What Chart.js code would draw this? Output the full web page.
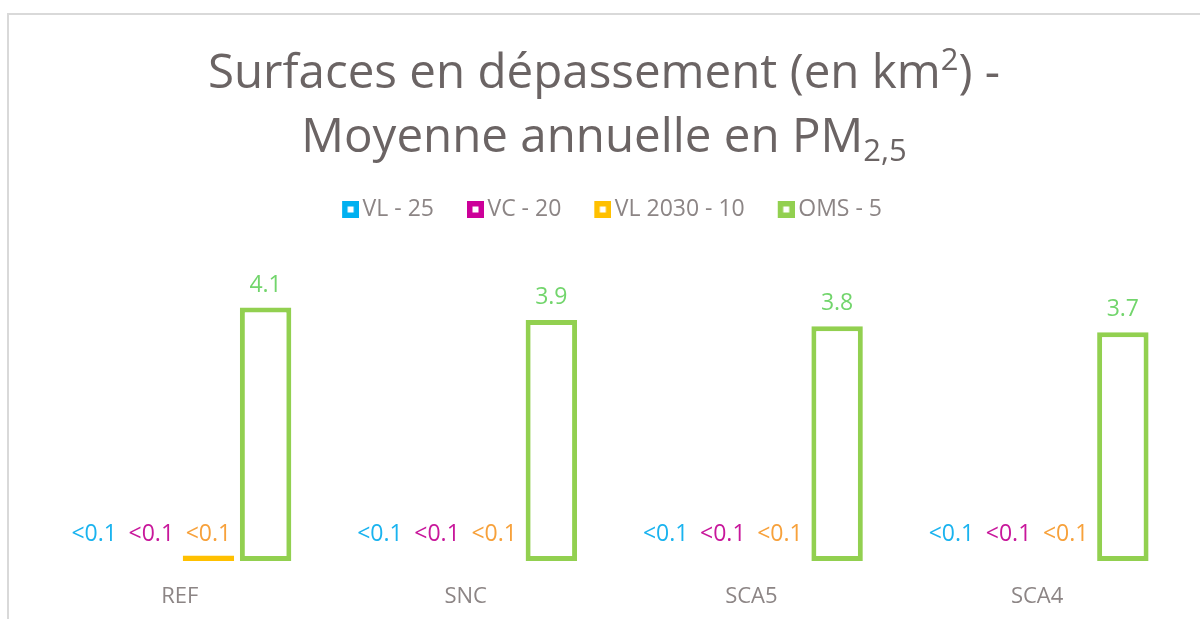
<!DOCTYPE html>
<html>
<head>
<meta charset="utf-8">
<script src="https://cdn.jsdelivr.net/npm/chart.js@4.4.1/dist/chart.umd.min.js"></script>
<style>
  html, body { margin: 0; padding: 0; background: #ffffff; }
  body { width: 1200px; height: 619px; overflow: hidden; position: relative; }
  #frame { position: absolute; left: 7px; top: 13px; width: 1300px; height: 700px;
           border-left: 2px solid #d9d9d9; border-top: 2px solid #d9d9d9; box-sizing: border-box; }
  #wrap { position: absolute; left: 0; top: 0; width: 1200px; height: 619px; }
</style>
</head>
<body>
<div id="frame"></div>
<div id="wrap"><canvas id="chart" width="1200" height="619"></canvas></div>
<script>
// Scenarios on the x axis
const categories = ['REF', 'SNC', 'SCA5', 'SCA4'];

// Exceedance area (km²) per threshold, annual mean PM2.5
const seriesNames = ['VL - 25', 'VC - 20', 'VL 2030 - 10', 'OMS - 5'];
const vl25     = [0, 0, 0, 0];
const vc20     = [0, 0, 0, 0];
const vl2030   = [0.09, 0, 0, 0];
const oms5     = [4.1, 3.9, 3.8, 3.7];

// Threshold below which a value is shown as "<0.1"
const smallLimit = 0.1;

const barColors   = ['#00B0F0', '#CC0099', '#FFC000', '#92D050'];
const labelColors = ['#1AB3EF', '#C8179B', '#F7A13B', '#72D56C'];
const textGray  = '#8C8585';
const titleGray = '#6B6464';
const FONT = '"Open Sans", "Noto Sans", sans-serif';

// Hollow square legend marker (coloured frame, white centre), placed at the
// right of a transparent strip so it sits close to its label
function legendMarker(color) {
  const c = document.createElement('canvas');
  c.width = 32; c.height = 17;
  const g = c.getContext('2d');
  g.fillStyle = color;
  g.fillRect(15, 0, 17, 17);
  g.fillStyle = '#ffffff';
  g.fillRect(20.5, 5.5, 6, 6);
  return c;
}

// Title with superscript / subscript runs
const titleLines = [
  [{t: 'Surfaces en dépassement (en km'}, {t: '2', sup: true}, {t: ') -'}],
  [{t: 'Moyenne annuelle en PM'}, {t: '2,5', sub: true}]
];

const titlePlugin = {
  id: 'richTitle',
  afterDraw(chart) {
    const ctx = chart.ctx;
    const size = 47.5, small = 31;
    const baselines = [88, 152];
    ctx.save();
    ctx.fillStyle = titleGray;
    ctx.textBaseline = 'alphabetic';
    ctx.textAlign = 'left';
    titleLines.forEach((runs, i) => {
      let total = 0;
      runs.forEach(r => {
        ctx.font = `${(r.sup || r.sub) ? small : size}px ${FONT}`;
        r.w = ctx.measureText(r.t).width;
        total += r.w;
      });
      let x = chart.width / 2 + 4 - total / 2;
      runs.forEach(r => {
        ctx.font = `${(r.sup || r.sub) ? small : size}px ${FONT}`;
        let y = baselines[i];
        if (r.sup) y -= 18;
        if (r.sub) y += 9;
        ctx.fillText(r.t, x, y);
        x += r.w;
      });
    });
    ctx.restore();
  }
};

// Value labels above every bar; the small ones share one line near the base
const valueLabels = {
  id: 'valueLabels',
  afterDatasetsDraw(chart) {
    const ctx = chart.ctx;
    const base = chart.scales.y.getPixelForValue(0);
    ctx.save();
    ctx.font = `23px ${FONT}`;
    ctx.textAlign = 'center';
    ctx.textBaseline = 'alphabetic';
    chart.data.datasets.forEach((ds, di) => {
      const meta = chart.getDatasetMeta(di);
      meta.data.forEach((bar, i) => {
        const v = ds.data[i];
        const small = v < smallLimit;
        const txt = small ? '<0.1' : v.toFixed(1);
        const y = small ? base - 20 : bar.y - 16;
        ctx.fillStyle = labelColors[di];
        ctx.fillText(txt, bar.x, y);
      });
    });
    ctx.restore();
  }
};

// Legend block ends where the plot area begins
const legendGap = {
  id: 'legendGap',
  beforeInit(chart) {
    const fit = chart.legend.fit;
    chart.legend.fit = function () {
      fit.bind(this)();
      this.height = 80;
    };
  }
};

const seriesData = [vl25, vc20, vl2030, oms5];

new Chart(document.getElementById('chart'), {
  type: 'bar',
  data: {
    labels: categories,
    datasets: seriesData.map((d, i) => ({
      label: seriesNames[i],
      data: d,
      backgroundColor: '#ffffff',
      borderColor: barColors[i],
      borderWidth: 5,
      borderSkipped: false,
      barPercentage: 0.9,
      categoryPercentage: 0.8
    }))
  },
  options: {
    responsive: false,
    animation: false,
    layout: { padding: { left: 37, right: 20, top: 172, bottom: 0 } },
    scales: {
      x: {
        grid: { display: false },
        border: { display: false },
        ticks: { color: textGray, font: { family: FONT, size: 22 }, padding: 15 },
        afterFit(scale) { scale.height = 58; }
      },
      y: { display: false, min: 0, max: 5 }
    },
    plugins: {
      title: { display: false },
      tooltip: { enabled: false },
      legend: {
        position: 'top',
        labels: {
          color: textGray,
          font: { family: FONT, size: 23 },
          usePointStyle: true,
          boxWidth: 16,
          boxHeight: 16,
          padding: 26,
          generateLabels(chart) {
            return chart.data.datasets.map((ds, i) => ({
              text: ds.label,
              pointStyle: legendMarker(barColors[i]),
              fillStyle: barColors[i],
              strokeStyle: barColors[i],
              lineWidth: 0,
              fontColor: textGray,
              datasetIndex: i,
              hidden: false
            }));
          }
        }
      }
    }
  },
  plugins: [titlePlugin, valueLabels, legendGap]
});
</script>
</body>
</html>
